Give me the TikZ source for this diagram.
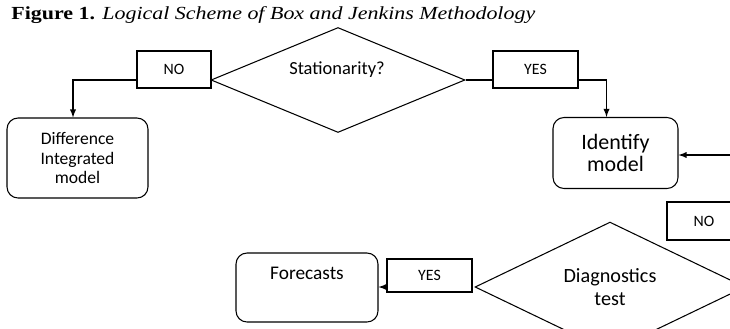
\documentclass[tikz,border=0pt]{standalone}
\usepackage{graphicx}
\usepackage{fontspec}
\setmainfont{Liberation Serif}
\newfontfamily\boxfont{Carlito}
\usetikzlibrary{shapes.geometric}
\usetikzlibrary{positioning}
\tikzset{
	labelbox/.style = {draw, rectangle, line width=0.6pt, minimum width=1.7cm, minimum height=0.74cm, inner sep=0pt, font=\boxfont\fontsize{9}{10}\selectfont},
	stagebox/.style = {draw, rectangle, rounded corners=0.22cm, line width=0.6pt, inner sep=0pt, align=center},
	decision/.style = {draw, diamond, line width=0.6pt, inner sep=0pt, align=center},
	flow/.style = {line width=0.6pt, -latex}
}

\begin{document}
\begin{tikzpicture}[x=0.02cm, y=-0.02cm]
					
					\useasboundingbox (0,0) rectangle (730,328);
					\clip (0,0) rectangle (730,328);
					
					% title
					\node[anchor=west, inner sep=0pt, font=\fontsize{10.5}{12}\selectfont] (title) at (11,15) {\scalebox{1.19}[1]{\textbf{Figure 1.} \textit{Logical Scheme of Box and Jenkins Methodology}}};
					
					% first decision
					\node[decision, minimum width=5.08cm, minimum height=2.1cm] (stat) at (338,80) {};
					\node[font=\boxfont\fontsize{10.5}{12}\selectfont, inner sep=0pt] (statlbl) at (337,70) {Stationarity?};
					\node[labelbox, minimum width=1.48cm] (no1) at (174,69.5) {NO};
					\node[labelbox] (yes1) at (535.5,69.5) {YES};
					
					\node[stagebox, minimum width=2.82cm, minimum height=1.6cm, font=\boxfont\fontsize{10}{11.3}\selectfont] (diff) at (77.5,158) {Difference\\Integrated\\model};
					\node[stagebox, minimum width=2.5cm, minimum height=1.42cm, font=\boxfont\fontsize{12.5}{13}\selectfont] (ident) at (615.5,153) {Identify\\model};
					
					% second decision
					\node[labelbox, minimum width=1.48cm, minimum height=0.76cm] (no2) at (704,221) {NO};
					\node[decision, minimum width=5.4cm, minimum height=1.92cm, font=\boxfont\fontsize{11.5}{13}\selectfont] (diag) at (610,287) {Diagnostics\\test};
					\node[labelbox, minimum height=0.66cm] (yes2) at (429.5,275.5) {YES};
					\node[stagebox, minimum width=2.84cm, minimum height=1.38cm] (fore) at (307,287.5) {};
					\node[font=\boxfont\fontsize{11}{12}\selectfont, inner sep=0pt] (forelbl) at (307,273) {Forecasts};
					
					\coordinate (back) at (760,155);
					
					% connectors
					\draw[flow] (no1.west |- stat.west) -| ([xshift=-0.09cm]diff.north);
					\draw[line width=0.6pt] (stat.east) -- (stat.east -| yes1.west);
					\draw[flow] (yes1.east |- stat.east) -| ([xshift=-0.18cm]ident.north);
					\draw[flow] (back) -- (back -| ident.east);
					\draw[flow] (yes2.west |- diag.west) -- (fore.east |- diag.west);
					
\end{tikzpicture}
\end{document}
